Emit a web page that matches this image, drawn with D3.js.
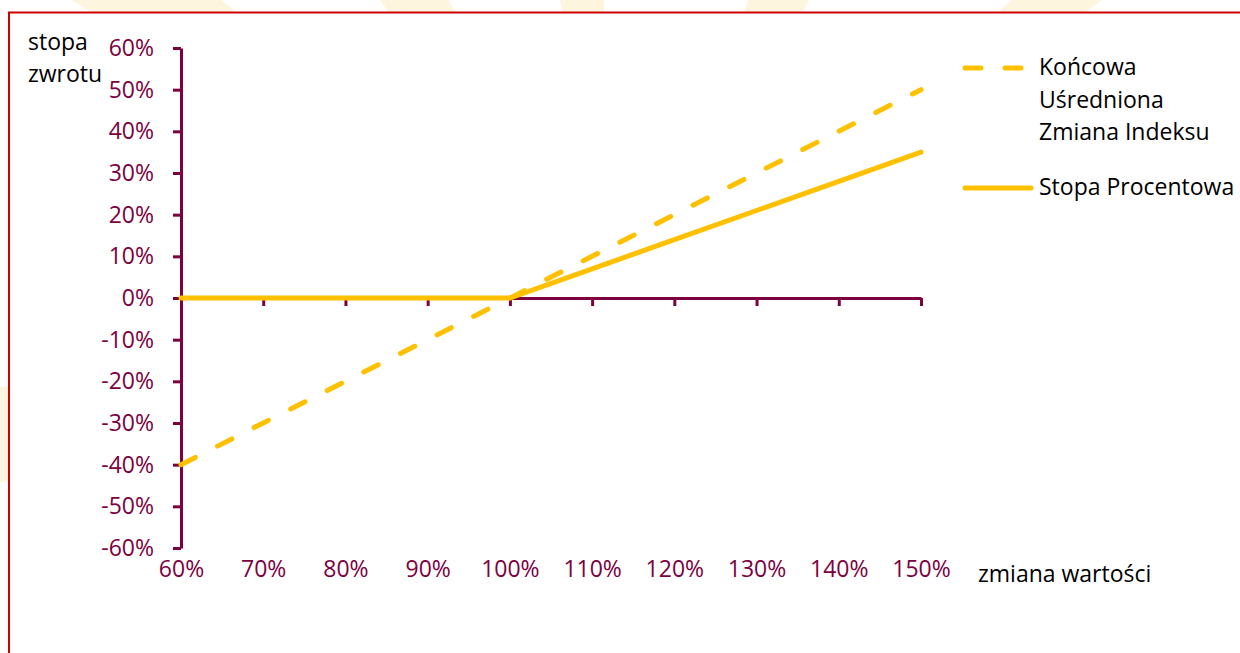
<!DOCTYPE html>
<html><head><meta charset="utf-8">
<script src="https://cdn.jsdelivr.net/npm/d3@7/dist/d3.min.js"></script>
<style>
html,body{margin:0;padding:0;background:#fff;}
svg{display:block;font-family:"Open Sans","Noto Sans",sans-serif;}
</style></head>
<body>
<svg id="chart" width="1240" height="653"></svg>
<script>
// ---- data ----
const xValues = [0.6,0.7,0.8,0.9,1.0,1.1,1.2,1.3,1.4,1.5];
const koncowa = [-0.4,-0.3,-0.2,-0.1,0.0,0.1,0.2,0.3,0.4,0.5];
const stopaProcentowa = [0,0,0,0,0,0.07,0.14,0.21,0.28,0.35];
const yTicks = [0.6,0.5,0.4,0.3,0.2,0.1,0,-0.1,-0.2,-0.3,-0.4,-0.5,-0.6];
const xTicks = [0.6,0.7,0.8,0.9,1.0,1.1,1.2,1.3,1.4,1.5];
const legendLabels1 = ["Końcowa","Uśredniona","Zmiana Indeksu"];
const legendLabel2 = "Stopa Procentowa";
const yTitle = ["stopa","zwrotu"];
const xTitle = "zmiana wartości";

const maroon = "#7d003f", gold = "#FFC000";
const FS = 23;
const svg = d3.select("#chart");

// faint background watermark rays
const bg = svg.append("g");
const cx = 620, cy = 330;
const rays = [[-2.6,-2.45],[-2.2,-2.05],[-1.75,-1.62],[-1.2,-1.05],[-0.7,-0.6],[-0.3,-0.18],[2.9,3.05],[2.5,2.62],[2.0,2.1]];
rays.forEach(r=>{
  const R=1500;
  bg.append("path").attr("d",`M${cx},${cy}L${cx+R*Math.cos(r[0])},${cy+R*Math.sin(r[0])}L${cx+R*Math.cos(r[1])},${cy+R*Math.sin(r[1])}Z`)
    .attr("fill","#fdf1d2").attr("opacity",0.7);
});

// chart frame
svg.append("rect").attr("x",9).attr("y",12.5).attr("width",1300).attr("height",700)
  .attr("fill","#fff").attr("stroke","#cc0000").attr("stroke-width",2);

const x = d3.scaleLinear().domain([0.6,1.5]).range([181,921]);
const y = d3.scaleLinear().domain([-0.6,0.6]).range([548,48]);
const pct = d => Math.round(d*100)+"%";

// y axis
const yAx = svg.append("g").attr("transform",`translate(${x(0.6)},0)`)
  .call(d3.axisLeft(y).tickValues(yTicks).tickSize(8).tickSizeOuter(0).tickPadding(19).tickFormat(pct));
yAx.select(".domain").attr("stroke",maroon).attr("stroke-width",3);
yAx.selectAll(".tick line").attr("stroke",maroon).attr("stroke-width",3);
yAx.selectAll(".tick text").attr("fill",maroon).attr("font-size",FS).attr("font-family","'Open Sans',sans-serif");

// x axis at y=0
const xAx = svg.append("g").attr("transform",`translate(0,${y(0)})`)
  .call(d3.axisBottom(x).tickValues(xTicks.slice(1)).tickSize(8).tickSizeOuter(0).tickFormat(""));
xAx.select(".domain").attr("stroke",maroon).attr("stroke-width",3);
xAx.selectAll(".tick line").attr("stroke",maroon).attr("stroke-width",3);

// x tick labels at the bottom
const xLab = svg.append("g").attr("transform",`translate(0,${y(-0.6)})`)
  .call(d3.axisBottom(x).tickValues(xTicks).tickSize(0).tickPadding(13).tickFormat(pct));
xLab.select(".domain").remove();
xLab.selectAll(".tick text").attr("fill",maroon).attr("font-size",FS).attr("font-family","'Open Sans',sans-serif");

// lines
const line = d3.line().x((d,i)=>x(xValues[i])).y(d=>y(d));
svg.append("path").datum(koncowa).attr("d",line).attr("fill","none")
  .attr("stroke",gold).attr("stroke-width",5).attr("stroke-linecap","round")
  .attr("stroke-dasharray","16,25");
svg.append("path").datum(stopaProcentowa).attr("d",line).attr("fill","none")
  .attr("stroke",gold).attr("stroke-width",5).attr("stroke-linecap","round");

// titles
svg.append("g").selectAll("text").data(yTitle).join("text")
  .attr("x",28).attr("y",(d,i)=>50+i*32).attr("font-size",FS).attr("fill","#000").text(d=>d);
svg.append("text").attr("x",978).attr("y",582).attr("font-size",FS).attr("fill","#000").text(xTitle);

// legend
const lg = svg.append("g");
lg.append("line").attr("x1",965).attr("x2",1022).attr("y1",68).attr("y2",68)
  .attr("stroke",gold).attr("stroke-width",5).attr("stroke-linecap","round").attr("stroke-dasharray","16,24");
lg.selectAll("text.l1").data(legendLabels1).join("text").attr("class","l1")
  .attr("x",1039).attr("y",(d,i)=>75+i*32.5).attr("font-size",FS).attr("fill","#000").text(d=>d);
lg.append("line").attr("x1",965).attr("x2",1031).attr("y1",188).attr("y2",188)
  .attr("stroke",gold).attr("stroke-width",5).attr("stroke-linecap","round");
lg.append("text").attr("x",1039).attr("y",195).attr("font-size",FS).attr("fill","#000").text(legendLabel2);
</script>
</body></html>
